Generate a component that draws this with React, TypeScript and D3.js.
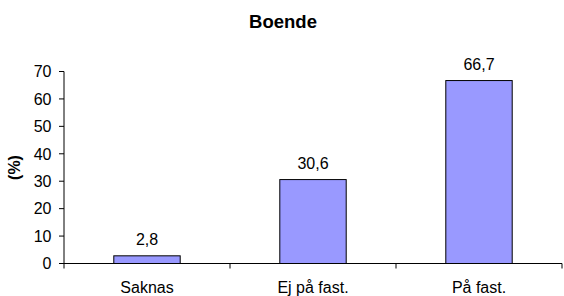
import React from "react";
import * as d3 from "d3";

const categories = ["Saknas", "Ej på fast.", "På fast."];
const values = [2.8, 30.6, 66.7];
const valueLabels = ["2,8", "30,6", "66,7"];
const yTicks = [0, 10, 20, 30, 40, 50, 60, 70];
const title = "Boende";
const yTitle = "(%)";

export default function App() {
  const W = 564, H = 296;
  const left = 64, right = 562, top = 71.5, bottom = 263.5;
  const x = d3.scaleBand<string>().domain(categories).range([left, right]).paddingInner(0.6).paddingOuter(0.3);
  const band = d3.scaleBand<string>().domain(categories).range([left, right]);
  const y = d3.scaleLinear().domain([0, 70]).range([bottom, top]);
  const font = "Liberation Sans, Arial, sans-serif";
  const boundaries = [left, ...categories.map((c) => (band(c) as number) + band.bandwidth())];
  return (
    <svg width={W} height={H} style={{ position: "absolute", left: 0, top: 0 }} fontFamily={font}>
      <rect x={0} y={0} width={W} height={H} fill="#fff" />
      <text x={283} y={28} textAnchor="middle" fontSize={18.5} fontWeight="bold">{title}</text>
      <text transform={`translate(20,${(top + bottom) / 2}) rotate(-90)`} textAnchor="middle" fontSize={16} fontWeight="bold">{yTitle}</text>
      {categories.map((c, i) => {
        const bx = x(c) as number;
        const by = y(values[i]);
        return (
          <g key={c}>
            <rect x={bx} y={by} width={x.bandwidth()} height={bottom - by} fill="#9999FF" stroke="#000" strokeWidth={1} />
            <text x={bx + x.bandwidth() / 2} y={by - 10.5} textAnchor="middle" fontSize={16}>{valueLabels[i]}</text>
            <text x={(band(c) as number) + band.bandwidth() / 2} y={293} textAnchor="middle" fontSize={16}>{c}</text>
          </g>
        );
      })}
      <line x1={left} x2={left} y1={top} y2={bottom} stroke="#000" />
      {yTicks.map((t) => (
        <g key={t}>
          <line x1={left - 5} x2={left} y1={y(t)} y2={y(t)} stroke="#000" />
          <text x={51.5} y={y(t) + 5.8} textAnchor="end" fontSize={16}>{t}</text>
        </g>
      ))}
      <line x1={left} x2={right} y1={bottom} y2={bottom} stroke="#000" />
      {boundaries.map((b, i) => (
        <line key={i} x1={b} x2={b} y1={bottom} y2={bottom + 5} stroke="#000" />
      ))}
    </svg>
  );
}
